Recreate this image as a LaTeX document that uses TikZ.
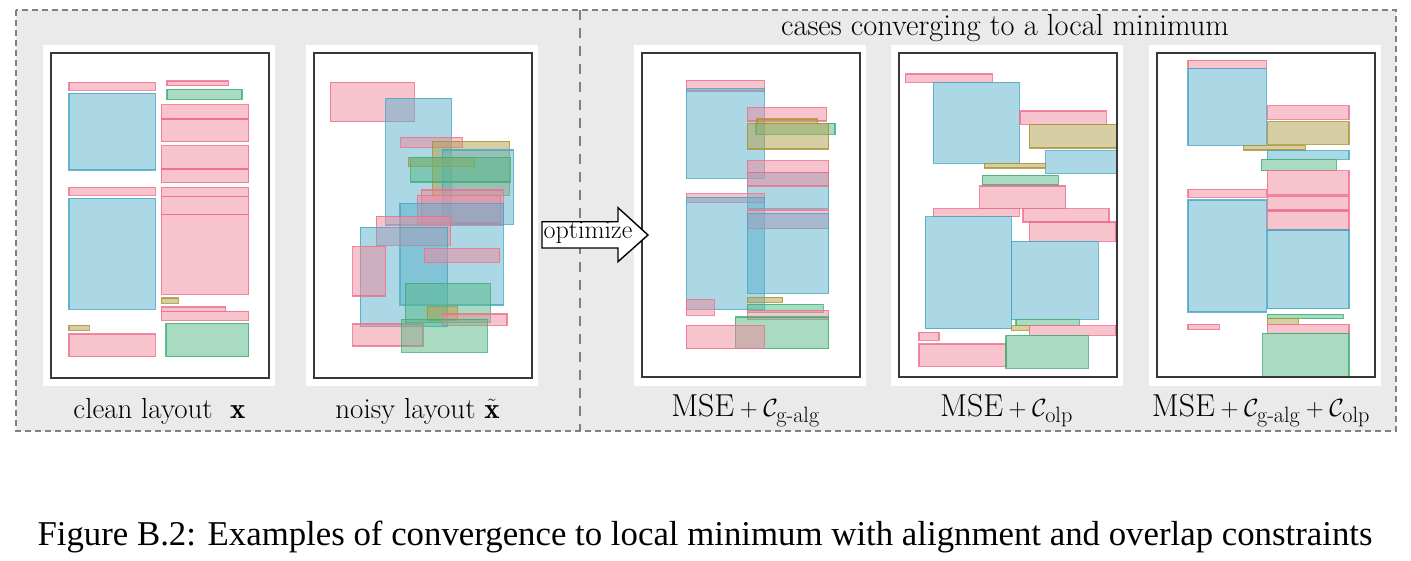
\documentclass[tikz,border=0pt]{standalone}
\usepackage{amsmath}
\usepackage{fontspec}
\newfontfamily\capfont{Liberation Serif}
\definecolor{pkF}{RGB}{241,137,157}
\definecolor{pkD}{RGB}{238,110,140}
\definecolor{blF}{RGB}{91,177,205}
\definecolor{blD}{RGB}{70,165,198}
\definecolor{grF}{RGB}{85,185,135}
\definecolor{grD}{RGB}{60,175,115}
\definecolor{olF}{RGB}{177,161,73}
\definecolor{olD}{RGB}{165,148,50}
\definecolor{bgGray}{RGB}{234,234,234}
\definecolor{dashGray}{RGB}{128,128,128}
\tikzset{
  lay/.style={line width=1.2pt, fill opacity=0.5, draw opacity=0.8},
  pk/.style={lay, fill=pkF, draw=pkD},
  bl/.style={lay, fill=blF, draw=blD},
  gr/.style={lay, fill=grF, draw=grD},
  ol/.style={lay, fill=olF, draw=olD},
  panelbg/.style={fill=white, draw=none},
  pageframe/.style={draw=black!78, line width=1.1pt},
  outerbox/.style={draw=dashGray, line width=1.4pt, dash pattern=on 6pt off 4pt, fill=bgGray},
  divider/.style={draw=dashGray, line width=1.2pt, dash pattern=on 10pt off 8pt},
  lbl/.style={anchor=base, inner sep=0pt, font=\fontsize{29}{33}\selectfont},
  mlbl/.style={lbl, font=\fontsize{31.7}{35}\selectfont},
  arrowbox/.style={draw=black, fill=white, line width=1.4pt, line join=miter}
}
\begin{document}
\begin{tikzpicture}[x=1pt,y=-1pt]
\useasboundingbox (0,0) rectangle (1411,560);
\fill[white] (0,0) rectangle (1411,560);
% outer dashed region
\path[outerbox] (16,10) rectangle (1396,431);
\draw[divider] (580,10) -- (580,431);
% panel backgrounds
\foreach \a in {43, 306, 634, 891, 1149}{
  \path[panelbg] (\a,45) rectangle ++(232,341);
}
% ---------- panel 1: clean layout ----------
\draw[pk] (69,82.3) rectangle (155.3,90.3);
\draw[bl] (69,93.3) rectangle (155.3,170);
\draw[pk] (167,81) rectangle (228.7,85.7);
\draw[gr] (167,89.3) rectangle (242,99.3);
\draw[pk] (161.3,104.7) rectangle (248.7,119);
\draw[pk] (161.3,119) rectangle (248.7,141.7);
\draw[pk] (161.3,145.7) rectangle (248.7,169);
\draw[pk] (161.3,169) rectangle (248.7,182.7);
\draw[pk] (69,187.3) rectangle (155.3,195.3);
\draw[bl] (69,198.3) rectangle (155.3,309.3);
\draw[pk] (161.3,187.3) rectangle (248.7,196.3);
\draw[pk] (161.3,196.3) rectangle (248.7,214.7);
\draw[pk] (161.3,214.7) rectangle (248.7,294.3);
\draw[ol] (161.3,298) rectangle (178.3,303.3);
\draw[pk] (161.3,307) rectangle (225.7,311.3);
\draw[pk] (161.3,311.3) rectangle (248.7,320.3);
\draw[ol] (69,325.3) rectangle (89.3,330.3);
\draw[pk] (69,334) rectangle (155.3,356.7);
\draw[gr] (166,323.3) rectangle (248.7,356.7);
% ---------- panel 2: noisy layout ----------
\draw[pk] (330.3,82.3) rectangle (414.3,121.7);
\draw[bl] (385.7,98.3) rectangle (451.3,225);
\draw[pk] (400.7,137.3) rectangle (462.3,147.3);
\draw[ol] (432.3,141.3) rectangle (509.3,195.3);
\draw[bl] (442.3,150) rectangle (513.3,224.3);
\draw[ol] (408.3,157.3) rectangle (474.7,166.3);
\draw[gr] (410.7,157.3) rectangle (510.3,182);
\draw[pk] (421.3,190) rectangle (503.3,225);
\draw[pk] (417.3,195.3) rectangle (500.7,223);
\draw[bl] (400,203.3) rectangle (503.3,305);
\draw[pk] (376.3,216.3) rectangle (450.3,245.3);
\draw[bl] (360.3,227.3) rectangle (447.7,326.7);
\draw[pk] (352.7,246.3) rectangle (385.7,296);
\draw[pk] (424.3,248.7) rectangle (499.7,262.3);
\draw[gr] (405.3,283.3) rectangle (490.3,322.3);
\draw[ol] (427.3,306.7) rectangle (457.3,320);
\draw[pk] (442.3,314) rectangle (507,325.3);
\draw[pk] (352.7,324) rectangle (423,346);
\draw[gr] (401.7,319.3) rectangle (487.3,352.3);
% ---------- panel 3: MSE + C_g-alg ----------
\draw[pk] (686.3,80.3) rectangle (764.3,91);
\draw[bl] (686.3,88.3) rectangle (764.3,178.3);
\draw[pk] (747.3,107.3) rectangle (826.7,121);
\draw[ol] (757,119) rectangle (817.7,123.3);
\draw[gr] (756,123.3) rectangle (835,134.3);
\draw[ol] (747.3,123.3) rectangle (828.7,149);
\draw[pk] (747.3,160.7) rectangle (828.7,172.7);
\draw[bl] (747.3,172.7) rectangle (828.7,208.3);
\draw[pk] (747.3,172.7) rectangle (828.7,186);
\draw[pk] (686.3,193.7) rectangle (764.3,202.3);
\draw[bl] (686.3,197.3) rectangle (764.3,309.3);
\draw[pk] (747.3,210) rectangle (828.7,228.7);
\draw[bl] (747.3,213.3) rectangle (828.7,293.3);
\draw[pk] (686.3,299.7) rectangle (714.3,315.3);
\draw[ol] (747.3,297.3) rectangle (782.7,302.3);
\draw[gr] (747.3,304.3) rectangle (823.3,312.3);
\draw[pk] (747.3,310.3) rectangle (828.7,319.3);
\draw[gr] (735.3,317) rectangle (828.7,348.7);
\draw[pk] (686.3,325.3) rectangle (764.3,348.7);
% ---------- panel 4: MSE + C_olp ----------
\draw[pk] (905.3,74) rectangle (992.3,82.3);
\draw[bl] (933.3,82.3) rectangle (1019.3,163.3);
\draw[pk] (1020,111) rectangle (1106.3,124.3);
\draw[ol] (1029.3,124.3) rectangle (1116.7,148);
\draw[bl] (1045.7,150.7) rectangle (1116.7,173.3);
\draw[ol] (984.3,163.3) rectangle (1045.7,168);
\draw[gr] (982.3,175.3) rectangle (1058.3,185);
\draw[pk] (979.7,186) rectangle (1065.7,208.3);
\draw[pk] (933.3,208.7) rectangle (1019.3,216.7);
\draw[pk] (1023,208.7) rectangle (1109,222);
\draw[pk] (1029.3,222) rectangle (1115.7,241.3);
\draw[bl] (925.3,216.7) rectangle (1011.3,328.7);
\draw[bl] (1011.3,241.3) rectangle (1098.3,319.3);
\draw[gr] (1016,319.3) rectangle (1079.3,325.7);
\draw[ol] (1011.3,325.7) rectangle (1029.3,330.3);
\draw[pk] (1029.3,325.7) rectangle (1115.7,335.3);
\draw[pk] (919,332.3) rectangle (939,340.3);
\draw[pk] (919,344) rectangle (1006,366.3);
\draw[gr] (1006,335.3) rectangle (1088.3,368.3);
% ---------- panel 5: MSE + C_g-alg + C_olp ----------
\draw[pk] (1188,60.3) rectangle (1266.3,68.3);
\draw[bl] (1188,68.3) rectangle (1266.3,145.3);
\draw[pk] (1267.3,105.7) rectangle (1349,119.3);
\draw[ol] (1267.3,121.7) rectangle (1349,144.3);
\draw[ol] (1243.7,145.3) rectangle (1305.3,150);
\draw[bl] (1267.3,150.7) rectangle (1349,159.3);
\draw[gr] (1261.3,159.3) rectangle (1336.3,170.7);
\draw[pk] (1267.3,170.7) rectangle (1349,194.7);
\draw[pk] (1188,189.3) rectangle (1266.3,197.3);
\draw[pk] (1267.3,196) rectangle (1349,210);
\draw[pk] (1267.3,211) rectangle (1349,230);
\draw[bl] (1188,200) rectangle (1266.3,312);
\draw[bl] (1267.3,230) rectangle (1349,308.7);
\draw[gr] (1267.3,314.3) rectangle (1343.3,318.7);
\draw[ol] (1267.3,318.7) rectangle (1298.3,324.3);
\draw[pk] (1188,324.3) rectangle (1219.3,329.7);
\draw[pk] (1267.3,324.3) rectangle (1349,333.3);
\draw[gr] (1262.7,333.3) rectangle (1349,377);
% page frames
\draw[pageframe] (51,53) rectangle (269,378);
\draw[pageframe] (314,53) rectangle (532,378);
\draw[pageframe] (642,53) rectangle (860,377);
\draw[pageframe] (899,53) rectangle (1117,377);
\draw[pageframe] (1157,53) rectangle (1375,377);
% optimize arrow
\draw[arrowbox] (542,221.7) -- (618,221.7) -- (618,207.7) -- (648,235) -- (618,261.7) -- (618,248) -- (542,248) -- cycle;
\node[inner sep=0pt, font=\fontsize{26}{30}\selectfont] (opt) at (588,233) {optimize};
% labels
\node[lbl] (l1) at (159.5,418) {clean layout\ \ $\mathbf{x}$};
\node[lbl] (l2) at (417.5,418) {noisy layout $\tilde{\mathbf{x}}$};
\node[mlbl] (l3) at (745.5,416) {$\mathrm{MSE}+\mathcal{C}_{\text{g-alg}}$};
\node[mlbl] (l4) at (1006.5,416) {$\mathrm{MSE}+\mathcal{C}_{\text{olp}}$};
\node[mlbl] (l5) at (1261,416) {$\mathrm{MSE}+\mathcal{C}_{\text{g-alg}}+\mathcal{C}_{\text{olp}}$};
\node[lbl, font=\fontsize{30.5}{34}\selectfont] (top) at (1005,35) {cases converging to a local minimum};
% caption
\node[anchor=base, inner sep=0pt, font=\capfont\fontsize{34.8}{40}\selectfont] (cap) at (705,545) {Figure B.2: Examples of convergence to local minimum with alignment and overlap constraints};
\end{tikzpicture}
\end{document}
